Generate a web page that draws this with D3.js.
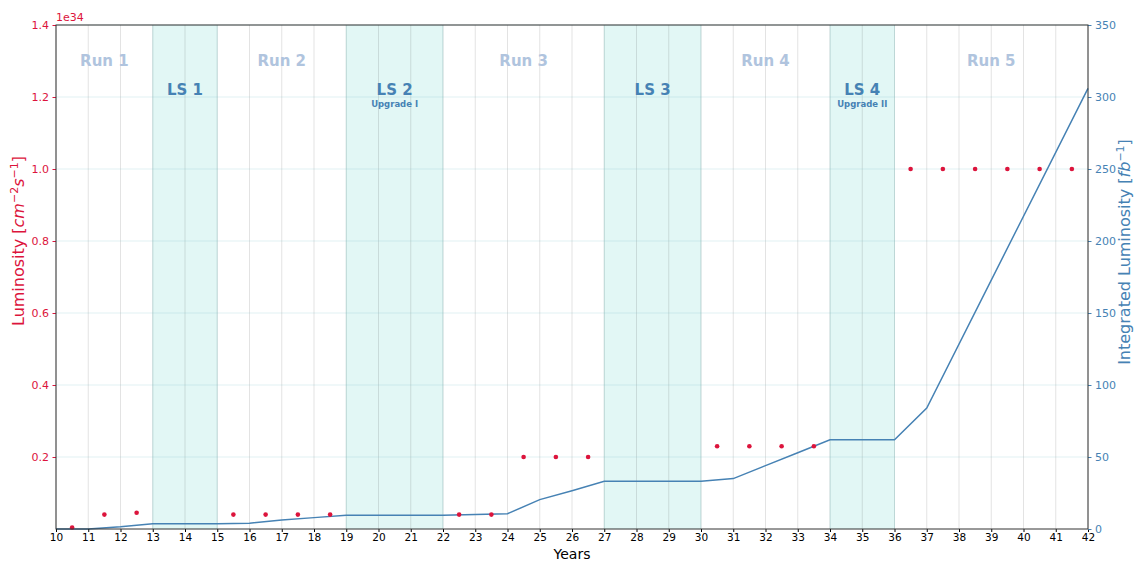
<!DOCTYPE html>
<html>
<head>
<meta charset="utf-8">
<script src="https://cdn.jsdelivr.net/npm/d3@7"></script>
<style>
  html, body { margin: 0; padding: 0; background: #fff; }
  svg { display: block; font-family: "DejaVu Sans", sans-serif; }
</style>
</head>
<body>
<svg id="chart" width="1136" height="562"></svg>
<script>
// Peak instantaneous luminosity per year (units of 1e34 cm^-2 s^-1)
const lumiYears  = [10.5, 11.5, 12.5, 15.5, 16.5, 17.5, 18.5, 22.5, 23.5, 24.5, 25.5, 26.5,
                    30.5, 31.5, 32.5, 33.5, 36.5, 37.5, 38.5, 39.5, 40.5, 41.5];
const lumiValues = [0.004, 0.04, 0.045, 0.04, 0.04, 0.04, 0.04, 0.04, 0.04, 0.2, 0.2, 0.2,
                    0.23, 0.23, 0.23, 0.23, 1.0, 1.0, 1.0, 1.0, 1.0, 1.0];

// Cumulative integrated luminosity (fb^-1)
const intYears  = [10, 11, 12, 13, 14, 15, 16, 17, 18, 19, 20, 21, 22, 23, 24, 25, 26,
                   27, 28, 29, 30, 31, 32, 33, 34, 35, 36, 37, 42];
const intValues = [0, 0, 1.6, 3.7, 3.7, 3.7, 4, 6.3, 7.9, 9.5, 9.5, 9.5, 9.5, 10, 10.6, 20.4, 26.6,
                   33.1, 33.1, 33.1, 33.1, 35, 44, 53, 62, 62, 62, 84, 306];

// Running periods and long shutdowns
const runNames   = ["Run 1", "Run 2", "Run 3", "Run 4", "Run 5"];
const runCenters = [11.5, 17, 24.5, 32, 39];
const lsNames    = ["LS 1", "LS 2", "LS 3", "LS 4"];
const lsStart    = [13, 19, 27, 34];
const lsEnd      = [15, 22, 30, 36];
const lsNotes    = ["", "Upgrade I", "", "Upgrade II"];

// Tick labels
const xTicks      = d3.range(10, 43);
const leftTicks   = [0.2, 0.4, 0.6, 0.8, 1.0, 1.2, 1.4];
const rightTicks  = [0, 50, 100, 150, 200, 250, 300, 350];

const RED = "#dc143c";
const BLUE = "#4682b4";

const svg = d3.select("#chart");
const m = { left: 56, right: 1088, top: 25, bottom: 529 };

const x  = d3.scaleLinear().domain([10, 42]).range([m.left, m.right]);
const yL = d3.scaleLinear().domain([0, 1.4]).range([m.bottom, m.top]);
const yR = d3.scaleLinear().domain([0, 350]).range([m.bottom, m.top]);

// shutdown bands
svg.append("g").selectAll("rect")
  .data(lsNames)
  .join("rect")
  .attr("x", (d, i) => x(lsStart[i]))
  .attr("width", (d, i) => x(lsEnd[i]) - x(lsStart[i]))
  .attr("y", m.top)
  .attr("height", m.bottom - m.top)
  .attr("fill", "#e2f7f5");

// grid
svg.append("g").selectAll("line")
  .data(xTicks)
  .join("line")
  .attr("x1", d => x(d)).attr("x2", d => x(d))
  .attr("y1", m.top).attr("y2", m.bottom)
  .attr("stroke", "rgba(0,0,0,0.11)").attr("stroke-width", 1);

svg.append("g").selectAll("line")
  .data(leftTicks)
  .join("line")
  .attr("x1", m.left).attr("x2", m.right)
  .attr("y1", d => yL(d)).attr("y2", d => yL(d))
  .attr("stroke", "rgba(120,190,205,0.22)").attr("stroke-width", 1);

// band edges
svg.append("g").selectAll("line")
  .data(lsStart.concat(lsEnd))
  .join("line")
  .attr("x1", d => x(d)).attr("x2", d => x(d))
  .attr("y1", m.top).attr("y2", m.bottom)
  .attr("stroke", "rgba(120,190,190,0.25)").attr("stroke-width", 1);

// period labels
svg.append("g").selectAll("text")
  .data(runNames)
  .join("text")
  .attr("x", (d, i) => x(runCenters[i]))
  .attr("y", 65.5)
  .attr("text-anchor", "middle")
  .attr("font-size", 15).attr("font-weight", "bold")
  .attr("fill", "#b0c4de")
  .text(d => d);

svg.append("g").selectAll("text")
  .data(lsNames)
  .join("text")
  .attr("x", (d, i) => x((lsStart[i] + lsEnd[i]) / 2))
  .attr("y", 94.5)
  .attr("text-anchor", "middle")
  .attr("font-size", 15).attr("font-weight", "bold")
  .attr("fill", BLUE)
  .text(d => d);

svg.append("g").selectAll("text")
  .data(lsNotes)
  .join("text")
  .attr("x", (d, i) => x((lsStart[i] + lsEnd[i]) / 2))
  .attr("y", 107)
  .attr("text-anchor", "middle")
  .attr("font-size", 8.5).attr("font-weight", "bold")
  .attr("fill", BLUE)
  .text(d => d);

// integrated luminosity line
svg.append("path")
  .datum(intYears.map((yr, i) => [yr, intValues[i]]))
  .attr("fill", "none")
  .attr("stroke", BLUE)
  .attr("stroke-width", 1.5)
  .attr("d", d3.line().x(d => x(d[0])).y(d => yR(d[1])));

// peak luminosity points
svg.append("g").selectAll("circle")
  .data(lumiYears)
  .join("circle")
  .attr("cx", d => x(d))
  .attr("cy", (d, i) => yL(lumiValues[i]))
  .attr("r", 2.3)
  .attr("fill", RED);

// axes
const xAxis = d3.axisBottom(x).tickValues(xTicks).tickFormat(d3.format("d")).tickSize(3).tickPadding(2);
const gx = svg.append("g").attr("transform", `translate(0,${m.bottom})`).call(xAxis);
gx.selectAll("text").attr("font-size", 10.5).attr("fill", "#000").attr("font-family", "DejaVu Sans");

const lAxis = d3.axisLeft(yL).tickValues(leftTicks).tickFormat(d3.format(".1f")).tickSize(3.5).tickPadding(3.5);
const gl = svg.append("g").attr("transform", `translate(${m.left},0)`).call(lAxis);
gl.selectAll("text").attr("font-size", 11).attr("fill", RED).attr("font-family", "DejaVu Sans");
gl.selectAll(".tick line").attr("stroke", RED);

const rAxis = d3.axisRight(yR).tickValues(rightTicks).tickFormat(d3.format("d")).tickSize(3.5).tickPadding(3.5);
const gr = svg.append("g").attr("transform", `translate(${m.right},0)`).call(rAxis);
gr.selectAll("text").attr("font-size", 11).attr("fill", BLUE).attr("font-family", "DejaVu Sans");
gr.selectAll(".tick line").attr("stroke", BLUE);

[gx, gl, gr].forEach(g => g.select(".domain").remove());

// frame
svg.append("rect")
  .attr("x", m.left).attr("y", m.top)
  .attr("width", m.right - m.left).attr("height", m.bottom - m.top)
  .attr("fill", "none").attr("stroke", "#333").attr("stroke-width", 1);

// offset label
svg.append("text")
  .attr("x", m.left).attr("y", 21)
  .attr("font-size", 11).attr("fill", RED)
  .text("1e34");

// axis titles
svg.append("text")
  .attr("x", x(26)).attr("y", 559)
  .attr("text-anchor", "middle")
  .attr("font-size", 14).attr("fill", "#000")
  .text("Years");

const lt = svg.append("text")
  .attr("transform", "translate(24,241) rotate(-90)")
  .attr("text-anchor", "middle")
  .attr("font-size", 16).attr("fill", RED);
lt.append("tspan").text("Luminosity [");
lt.append("tspan").attr("font-style", "italic").text("cm");
lt.append("tspan").attr("font-size", 11).attr("dy", -6).text("−2");
lt.append("tspan").attr("font-style", "italic").attr("dy", 6).text("s");
lt.append("tspan").attr("font-size", 11).attr("dy", -6).text("−1");
lt.append("tspan").attr("dy", 6).text("]");

const rt = svg.append("text")
  .attr("transform", "translate(1130,252) rotate(-90)")
  .attr("text-anchor", "middle")
  .attr("font-size", 16).attr("fill", BLUE);
rt.append("tspan").text("Integrated Luminosity [");
rt.append("tspan").attr("font-style", "italic").text("fb");
rt.append("tspan").attr("font-size", 11).attr("dy", -6).text("−1");
rt.append("tspan").attr("dy", 6).text("]");
</script>
</body>
</html>
